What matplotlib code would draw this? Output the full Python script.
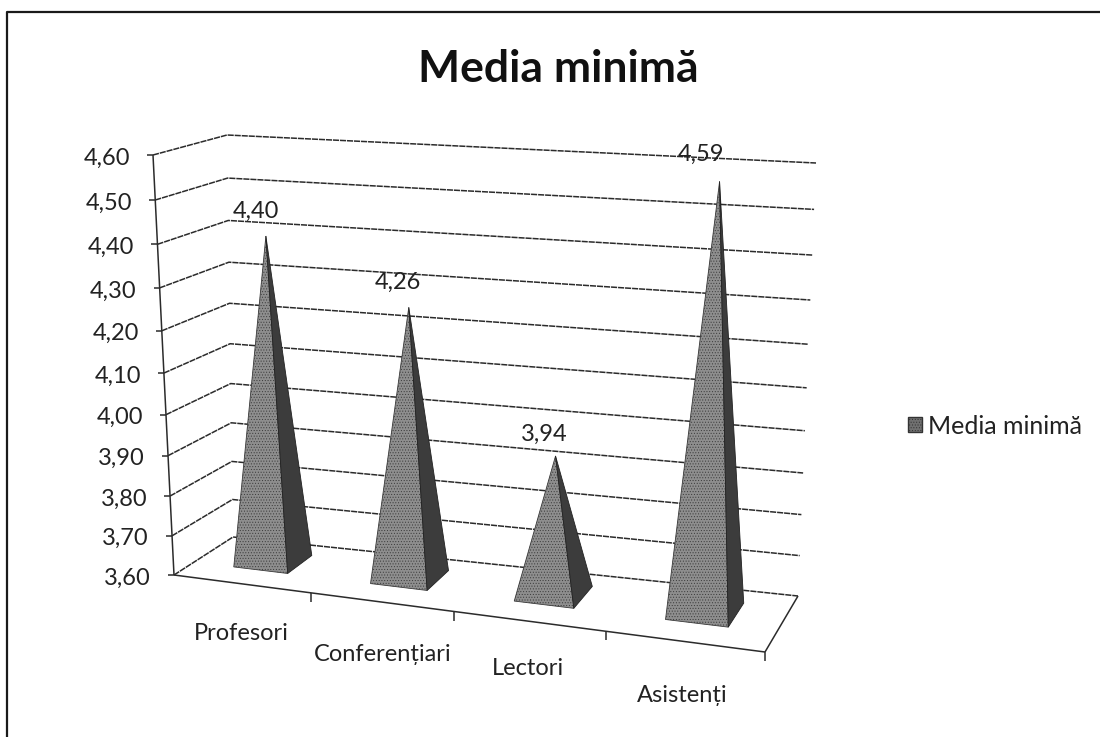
import matplotlib
matplotlib.use('Agg')
import matplotlib.pyplot as plt
from matplotlib.patches import Patch

categories = ['Profesori', 'Conferențiari', 'Lectori', 'Asistenți']
values = [4.40, 4.26, 3.94, 4.59]
value_labels = ['4,40', '4,26', '3,94', '4,59']
axis_ticks = [3.60, 3.70, 3.80, 3.90, 4.00, 4.10, 4.20, 4.30, 4.40, 4.50, 4.60]
axis_labels = ['3,60', '3,70', '3,80', '3,90', '4,00', '4,10', '4,20', '4,30', '4,40', '4,50', '4,60']
title = 'Media minimă'

# colturile cutiei 3D, in pixeli (x fata/spate, jos/sus)
FRONT_LEFT_LOW = (174, 575)
FRONT_LEFT_HIGH = (153, 155)
BACK_LEFT_LOW = (233, 537)
BACK_LEFT_HIGH = (227, 135)
FRONT_RIGHT_LOW = (765, 652)
FRONT_RIGHT_HIGH = (786, 206)
BACK_RIGHT_LOW = (798, 596)
BACK_RIGHT_HIGH = (816, 163)
PERSPECTIVE_X = 1.107
PERSPECTIVE_V = 1.08
LINE = '#2b2b2b'


def mix(a, b, t):
    return (a[0] + (b[0] - a[0]) * t, a[1] + (b[1] - a[1]) * t)


def warp(t, k):
    return t / (t + (1 - t) * k)


def project(cat, value, depth):
    # cat in unitati de categorie, depth 0 (fata) .. 1 (spate)
    u = warp(cat / len(categories), PERSPECTIVE_X)
    v = warp((value - axis_ticks[0]) / (axis_ticks[-1] - axis_ticks[0]), PERSPECTIVE_V)
    left = mix(mix(FRONT_LEFT_LOW, FRONT_LEFT_HIGH, v), mix(BACK_LEFT_LOW, BACK_LEFT_HIGH, v), depth)
    right = mix(mix(FRONT_RIGHT_LOW, FRONT_RIGHT_HIGH, v), mix(BACK_RIGHT_LOW, BACK_RIGHT_HIGH, v), depth)
    return mix(left, right, u)


def draw_line(ax, p, q, **kw):
    kw.setdefault('color', LINE)
    kw.setdefault('lw', 1.1)
    ax.plot([p[0], q[0]], [p[1], q[1]], solid_capstyle='butt', **kw)


def draw_walls(ax):
    n = len(categories)
    for tick, label in zip(axis_ticks, axis_labels):
        front = project(0, tick, 0)
        back = project(0, tick, 1)
        end = project(n, tick, 1)
        ax.plot([front[0], back[0], end[0]], [front[1], back[1], end[1]],
                color=LINE, lw=1.1, ls=(0, (4, 0.6)), zorder=1)
        draw_line(ax, front, (front[0] - 6, front[1]), zorder=2)
        ax.text(front[0] - 23, front[1] + 3, label, ha='right', va='center',
                fontsize=17, color='#222222')
    draw_line(ax, project(0, axis_ticks[0], 0), project(0, axis_ticks[-1], 0), zorder=2)
    # podeaua
    draw_line(ax, project(0, axis_ticks[0], 0), project(n, axis_ticks[0], 0), zorder=2)
    draw_line(ax, project(n, axis_ticks[0], 0), project(n, axis_ticks[0], 1), zorder=2)
    for i in range(1, n + 1):
        p = project(i, axis_ticks[0], 0)
        draw_line(ax, p, (p[0], p[1] + 9), zorder=2)


def draw_pyramids(ax):
    half_w = 0.2
    half_d = 0.22
    depth = 0.56
    base = axis_ticks[0]
    # offset-urile etichetelor, in pixeli
    value_off = [(-10, -25), (-11, -25), (-11, -22), (-19, -27)]
    cat_off = [(0, 50), (1, 52), (-1, 47), (-2, 54)]
    for i, val in enumerate(values):
        c = i + 0.5
        apex = project(c, val, depth)
        fl = project(c - half_w, base, depth - half_d)
        fr = project(c + half_w, base, depth - half_d)
        br = project(c + half_w, base, depth + half_d)
        ax.fill([fl[0], fr[0], apex[0]], [fl[1], fr[1], apex[1]], fc='#8e8e8e',
                ec='#3a3a3a', lw=0.6, hatch='......', zorder=3)
        ax.fill([fr[0], br[0], apex[0]], [fr[1], br[1], apex[1]], fc='#3c3c3c',
                ec='#222222', lw=0.6, zorder=3)
        ax.text(apex[0] + value_off[i][0], apex[1] + value_off[i][1], value_labels[i],
                ha='center', va='center', fontsize=17, color='#222222', zorder=5)
        mid = project(i + 0.5, base, 0)
        ax.text(mid[0] + cat_off[i][0], mid[1] + cat_off[i][1], categories[i],
                ha='center', va='center', fontsize=17, color='#222222')


def generate_plot():
    plt.rcParams['font.family'] = ['Lato', 'DejaVu Sans']
    plt.rcParams['hatch.color'] = '#d8d8d8'
    plt.rcParams['hatch.linewidth'] = 0.4

    fig = plt.figure(figsize=(11, 7.37), dpi=100)
    ax = fig.add_axes([0, 0, 1, 1])
    ax.set_xlim(0, 1100)
    ax.set_ylim(737, 0)
    ax.axis('off')

    # rama
    ax.plot([7, 7, 1100], [737, 12, 12], color='#1a1a1a', lw=1.6)

    ax.text(558, 69, title, ha='center', va='center', fontsize=32, fontweight='bold',
            color='#111111')

    draw_walls(ax)
    draw_pyramids(ax)

    swatch = Patch(facecolor='#707070', edgecolor='#333333', hatch='......', label=title)
    ax.legend(handles=[swatch], loc='center left', bbox_to_anchor=(885, 426),
              bbox_transform=ax.transData, frameon=False, fontsize=18,
              handlelength=0.56, handleheight=0.56, handletextpad=0.28,
              labelcolor='#222222')

    fig.savefig('out.png', dpi=100)


if __name__ == '__main__':
    generate_plot()
